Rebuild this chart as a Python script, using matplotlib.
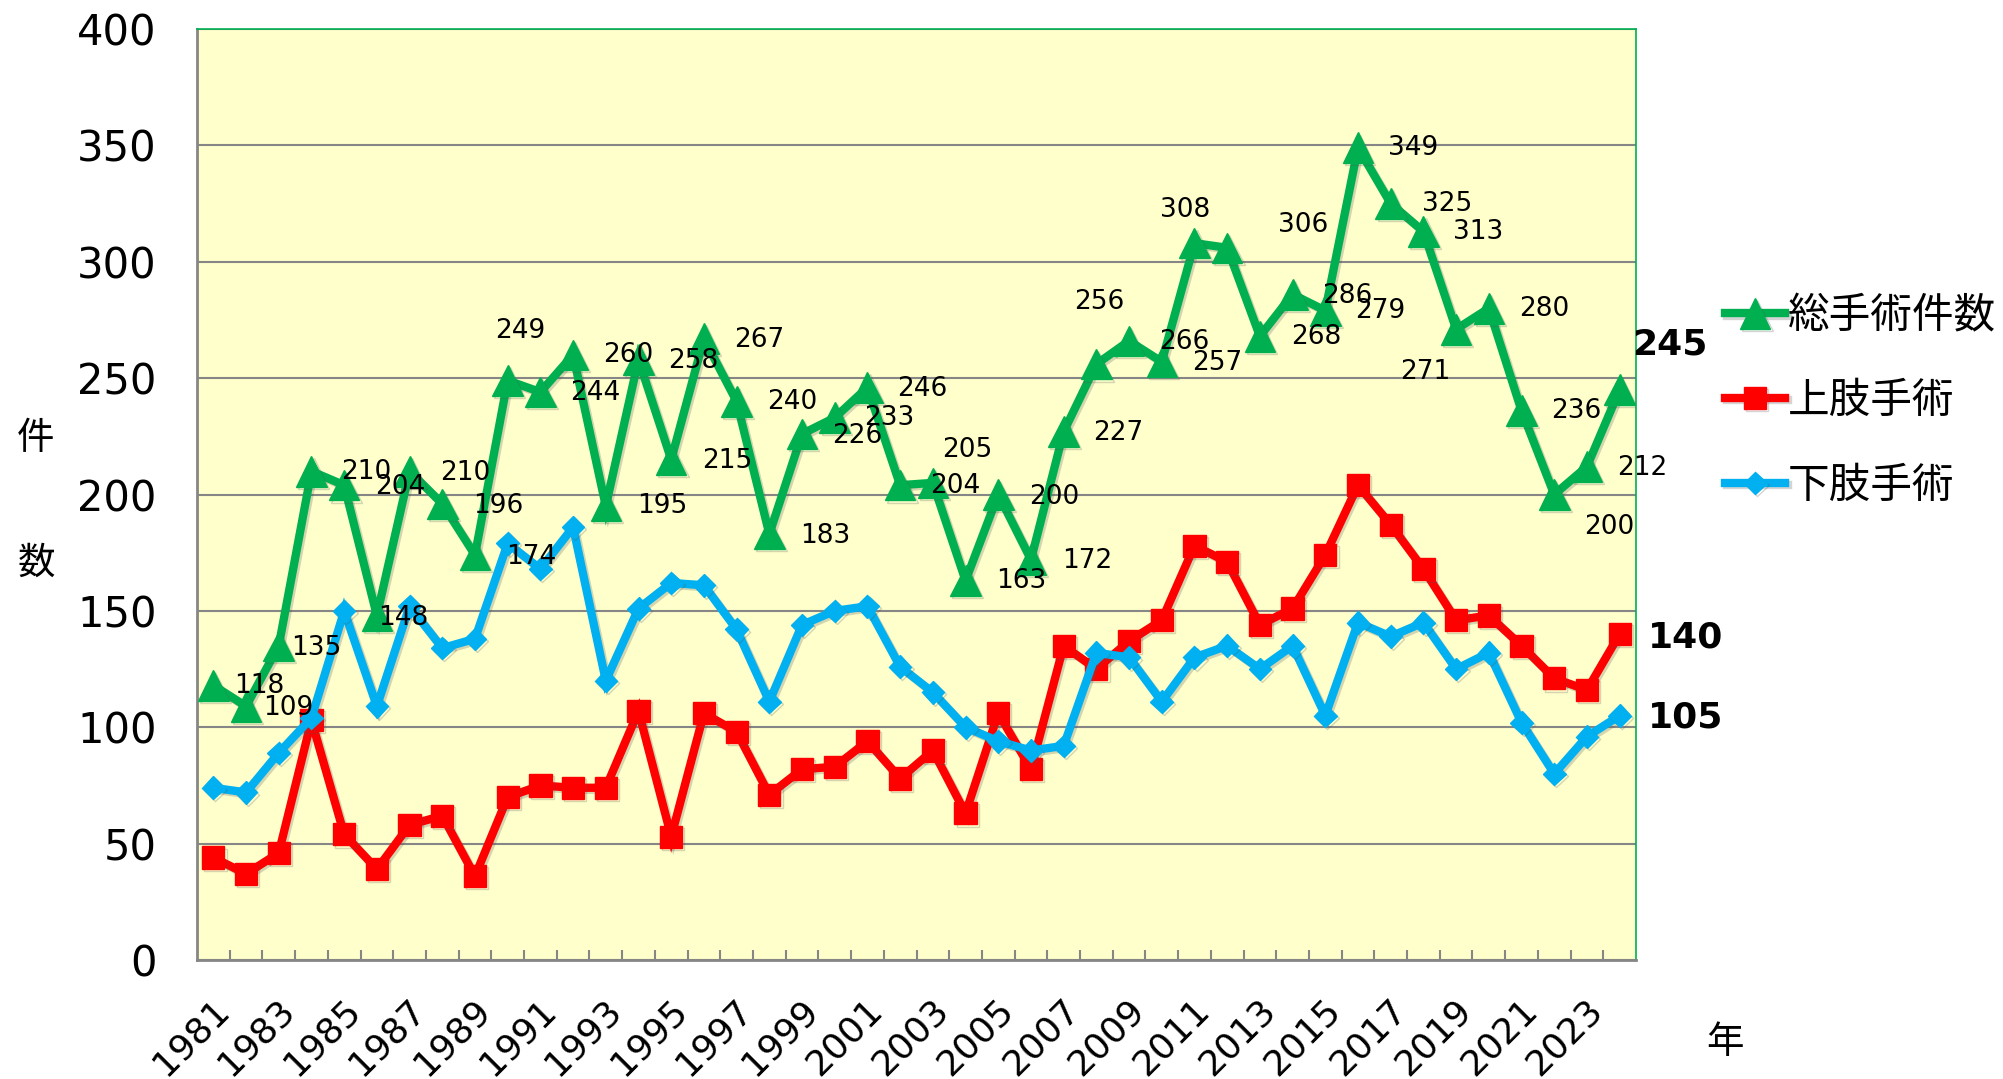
import matplotlib
matplotlib.use("Agg")
import matplotlib.pyplot as plt
import matplotlib.patheffects as pe
from matplotlib.transforms import ScaledTranslation

plt.rcParams['font.family'] = ['DejaVu Sans', 'Noto Sans CJK JP']

# ---------------- data ----------------
years = list(range(1981, 2025))
total = [118, 109, 135, 210, 204, 148, 210, 196, 174, 249,
         244, 260, 195, 258, 215, 267, 240, 183, 226, 233,
         246, 204, 205, 163, 200, 172, 227, 256, 266, 257,
         308, 306, 268, 286, 279, 349, 325, 313, 271, 280,
         236, 200, 212, 245]
upper = [44, 37, 46, 103, 54, 39, 58, 62, 36, 70,
         75, 74, 74, 107, 53, 106, 98, 71, 82, 83,
         94, 78, 90, 63, 106, 82, 135, 125, 137, 146,
         178, 171, 144, 151, 174, 204, 187, 168, 146, 148,
         135, 121, 116, 140]
lower = [74, 72, 89, 104, 150, 109, 152, 134, 138, 179,
         168, 186, 120, 151, 162, 161, 142, 111, 144, 150,
         152, 126, 115, 100, 94, 90, 92, 132, 130, 111,
         130, 135, 125, 135, 105, 145, 139, 145, 125, 132,
         102, 80, 96, 105]
series_names = ['総手術件数', '上肢手術', '下肢手術']
xtick_years = list(range(1981, 2024, 2))
yticks = list(range(0, 401, 50))

# label offsets for total-series labels (pixels; dx right, dy down)
label_dx = [46, 42, 37, 55, 56, 26, 56, 56, 56, 13,
            55, 55, 56, 55, 56, 55, 56, 56, 55, 55,
            55, 55, 34, 56, 56, 56, 55, 3, 55, 55,
            -9, 76, 56, 55, 55, 55, 56, 55, -31, 55,
            55, 55, 55, 50]
label_dy = [1, 2, 2, 1, 2, 2, 1.5, 2, 2, -49,
            1, 0, 0, 1.5, 1.5, 1, 1, 2, 2, 0,
            2, 1, -33, 0, 2, 1.5, 1, -62, 1, 1,
            -33, -23, 1, 2, 0, 0, 0, 1, 43, 1,
            0, 32, 1, -45]

GREEN = '#00B050'
RED = '#FF0000'
BLUE = '#00B0F0'
GRID = '#868686'

W, H = 2003, 1079
fig = plt.figure(figsize=(W / 100, H / 100), dpi=100)
ax = fig.add_axes([197 / W, 1 - 960 / H, (1636 - 197) / W, (960 - 29) / H])
ax.set_facecolor('#FFFFCC')

shadow = [pe.SimpleLineShadow(offset=(1.5, -1.5), alpha=0.25, shadow_color='#555555'), pe.Normal()]

l1, = ax.plot(years, total, color=GREEN, lw=6, marker='^', ms=22, mec=GREEN,
              label=series_names[0], zorder=3, path_effects=shadow, solid_joinstyle='miter')
l2, = ax.plot(years, upper, color=RED, lw=6, marker='s', ms=16, mec=RED,
              label=series_names[1], zorder=4, path_effects=shadow, solid_joinstyle='miter')
l3, = ax.plot(years, lower, color=BLUE, lw=6, marker='D', ms=11.5, mec=BLUE,
              label=series_names[2], zorder=5, path_effects=shadow, solid_joinstyle='miter')

# data labels for total
for i, (x, v) in enumerate(zip(years, total)):
    last = (i == len(total) - 1)
    ax.annotate(str(v), (x, v), xytext=(label_dx[i], -label_dy[i]),
                textcoords='offset pixels', ha='center', va='center',
                fontsize=26 if last else 19, fontweight='bold' if last else 'normal',
                color='black', zorder=10, annotation_clip=False)

# last-value labels for the two other series
ax.annotate(str(upper[-1]), (years[-1], upper[-1]), xytext=(66, -3),
            textcoords='offset pixels', ha='center', va='center',
            fontsize=26, fontweight='bold', zorder=10, annotation_clip=False)
ax.annotate(str(lower[-1]), (years[-1], lower[-1]), xytext=(66, -2),
            textcoords='offset pixels', ha='center', va='center',
            fontsize=26, fontweight='bold', zorder=10, annotation_clip=False)

ax.set_xlim(years[0] - 0.5, years[-1] + 0.5)
ax.set_ylim(0, 400)
ax.set_yticks(yticks)
ax.set_yticklabels([str(t) for t in yticks], fontsize=30)
ax.tick_params(axis='y', length=0, pad=29)
ax.yaxis.grid(True, color=GRID, lw=1.5)
ax.set_axisbelow(True)

ax.set_xticks(xtick_years)
ax.set_xticklabels([str(y) for y in xtick_years], fontsize=26, rotation=45,
                   ha='right', va='center', rotation_mode='anchor')
ax.tick_params(axis='x', which='major', length=0, pad=32)
shift = ScaledTranslation(10 / 100, 0, fig.dpi_scale_trans)
for lab in ax.get_xticklabels():
    lab.set_transform(lab.get_transform() + shift)
ax.set_xticks([y + 0.5 for y in years[:-1]], minor=True)
ax.tick_params(axis='x', which='minor', direction='in', length=7, width=1.5, color=GRID)

for s in ['left', 'bottom']:
    ax.spines[s].set_color(GRID)
    ax.spines[s].set_linewidth(2)
for s in ['top', 'right']:
    ax.spines[s].set_color(GREEN)
    ax.spines[s].set_linewidth(1.2)

fig.text(36 / W, 1 - 438 / H, '件', fontsize=27, family='Noto Sans CJK JP', ha='center', va='center')
fig.text(36 / W, 1 - 563 / H, '数', fontsize=27, family='Noto Sans CJK JP', ha='center', va='center')
fig.text(1725 / W, 1 - 1043 / H, '年', fontsize=27, family='Noto Sans CJK JP', ha='center', va='center')

leg = fig.legend(handles=[l1, l2, l3], loc='upper left', bbox_to_anchor=(1725 / W, 1 - 296 / H),
                 frameon=False, prop={'family': 'Noto Sans CJK JP', 'size': 30},
                 handlelength=1.45, handletextpad=0.05, labelspacing=1.05, borderaxespad=0,
                 borderpad=0)

fig.savefig('out.png', dpi=100)
